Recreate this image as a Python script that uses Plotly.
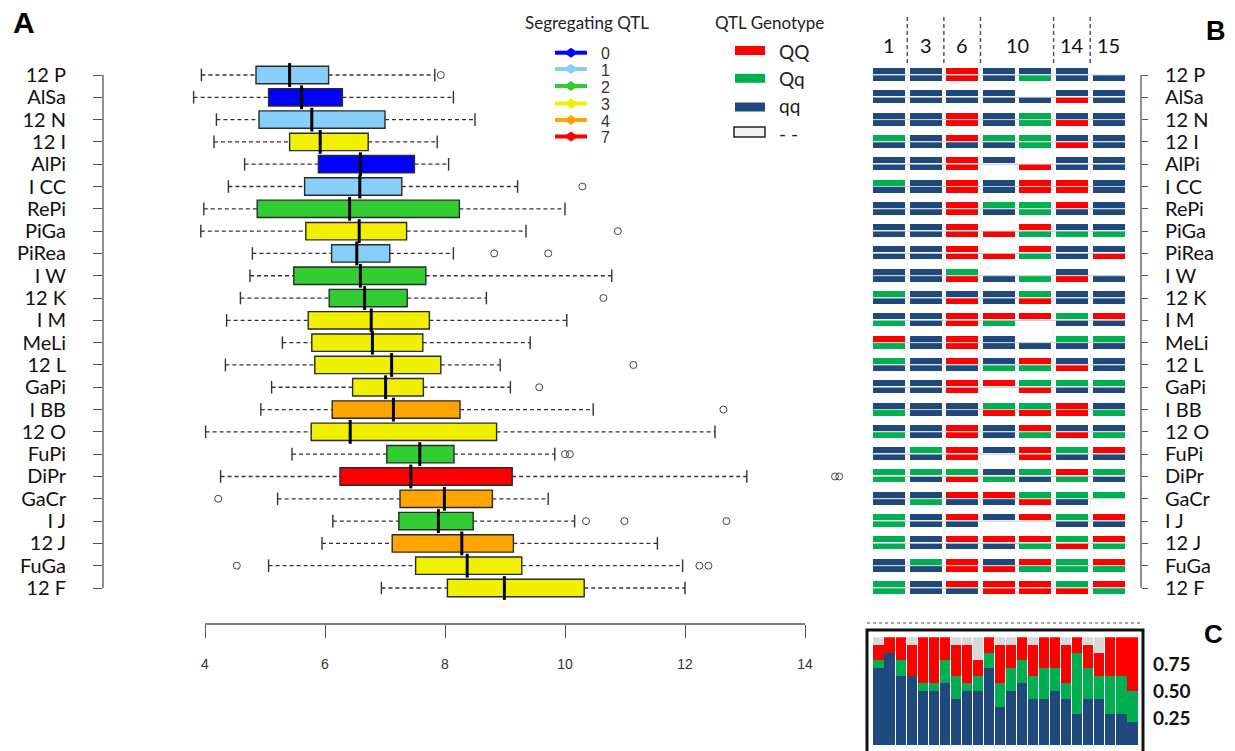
import plotly.graph_objects as go

W, H = 1235, 751

# ---------------- data ----------------
lines = ["12 P", "AlSa", "12 N", "12 I", "AlPi", "I CC", "RePi", "PiGa", "PiRea", "I W",
         "12 K", "I M", "MeLi", "12 L", "GaPi", "I BB", "12 O", "FuPi", "DiPr", "GaCr",
         "I J", "12 J", "FuGa", "12 F"]
n_qtl = [1, 0, 1, 3, 0, 1, 2, 3, 1, 2, 2, 3, 3, 3, 3, 4, 3, 2, 7, 4, 2, 4, 3, 3]
whisker_low = [3.94, 3.81, 4.19, 4.15, 4.66, 4.39, 3.98, 3.93, 4.79, 4.75, 4.59, 4.36,
               5.29, 4.34, 5.11, 4.93, 4.01, 5.45, 4.26, 5.21, 6.13, 5.95, 5.06, 6.94]
q1 = [4.85, 5.06, 4.90, 5.41, 5.89, 5.66, 4.87, 5.68, 6.11, 5.48, 6.07, 5.72,
      5.78, 5.83, 6.46, 6.12, 5.77, 7.03, 6.25, 7.25, 7.23, 7.12, 7.51, 8.04]
median = [5.41, 5.61, 5.78, 5.92, 6.59, 6.58, 6.41, 6.57, 6.53, 6.59, 6.66, 6.77,
          6.79, 7.11, 7.01, 7.14, 6.42, 7.58, 7.43, 7.99, 7.89, 8.28, 8.37, 8.99]
q3 = [6.06, 6.29, 7.00, 6.72, 7.49, 7.28, 8.24, 7.36, 7.08, 7.68, 7.37, 7.74,
      7.63, 7.93, 7.64, 8.25, 8.86, 8.15, 9.12, 8.79, 8.47, 9.14, 9.28, 10.32]
whisker_high = [7.83, 8.14, 8.50, 7.87, 8.06, 9.21, 10.00, 9.35, 8.14, 10.78, 8.69, 10.03,
                9.42, 8.92, 9.09, 10.47, 12.50, 9.83, 13.03, 9.72, 10.16, 11.54, 11.96, 12.00]
outliers = [[7.93], [], [], [], [], [10.29], [], [10.88], [8.82, 9.72], [], [10.64], [],
            [], [11.14], [9.57], [12.64], [], [10.00, 10.08], [14.50, 14.57], [4.22],
            [10.35, 10.99, 12.69], [], [4.53, 12.24, 12.39], []]
x_ticks = [4, 6, 8, 10, 12, 14]

qtl_levels = [0, 1, 2, 3, 4, 7]
qtl_colors = ["#0000FF", "#87CEFA", "#32CD32", "#F0F000", "#FFA500", "#FF0000"]

# genotype per QTL column, two alleles (top/bottom): R=QQ, G=Qq, B=qq, -=missing
chrom_labels = ["1", "3", "6", "10", "14", "15"]
geno_c1 = ["BB", "BB", "BB", "GB", "BB", "GB", "BB", "BB", "BB", "BB", "GB", "BG",
           "RG", "GB", "BB", "BG", "BG", "BB", "GG", "BB", "GG", "GG", "BB", "GG"]
geno_c3 = ["BB", "BB", "BB", "BB", "BB", "BB", "BB", "BB", "BB", "BB", "BB", "BB",
           "BB", "BB", "BB", "BB", "BB", "GB", "GB", "BG", "BB", "BB", "GB", "BB"]
geno_c6 = ["RR", "BB", "RR", "RB", "RR", "RR", "RR", "RR", "RR", "GR", "BR", "RR",
           "RR", "RB", "RR", "BB", "RR", "RR", "GR", "RB", "RB", "RB", "RR", "RB"]
geno_c10a = ["BB", "BB", "BB", "GB", "B-", "BB", "GB", "-R", "-R", "-B", "BB", "RG",
             "BB", "BG", "R-", "GR", "BB", "B-", "BG", "RB", "B-", "RB", "BR", "RR"]
geno_c10b = ["BG", "-B", "GG", "GG", "-R", "RR", "GG", "RG", "RG", "-G", "GR", "R-",
             "-B", "RG", "GR", "GR", "RG", "RR", "GB", "GR", "R-", "RG", "RG", "RR"]
geno_c14 = ["BB", "BR", "BR", "BR", "BB", "RR", "RB", "BG", "BB", "BR", "BB", "GB",
            "GB", "BR", "GB", "RR", "BR", "GB", "RG", "GB", "GB", "GR", "GG", "GR"]
geno_c15 = ["-B", "BB", "BB", "BB", "BB", "BB", "BB", "BG", "BR", "-B", "BB", "RB",
            "GB", "BB", "GB", "BG", "BG", "RB", "GB", "G-", "RB", "RG", "RG", "RG"]

# panel C: allele counts (out of 14) per line
c_qq = [10, 12, 9, 9, 7, 7, 8, 6, 7, 7, 10, 5, 7, 8, 6, 6, 7, 6, 4, 6, 6, 4, 4, 3]
c_Qq = [1, 0, 2, 0, 1, 1, 3, 3, 1, 2, 2, 3, 3, 3, 3, 4, 3, 2, 8, 4, 3, 5, 5, 4]
c_QQ = [2, 2, 3, 4, 6, 6, 3, 4, 5, 2, 2, 5, 3, 3, 4, 4, 4, 5, 2, 3, 3, 5, 5, 7]
c_na = [1, 0, 0, 1, 0, 0, 0, 1, 1, 3, 0, 1, 1, 0, 1, 0, 0, 1, 0, 1, 2, 0, 0, 0]
alleles_total = 14

geno_names = ["QQ", "Qq", "qq", "- -"]
geno_colors = ["#FF0000", "#00B050", "#1F497D", "#D9D9D9"]

# ---------------- helpers ----------------
def px(x):
    return x / W

def py(y):
    return 1 - y / H

LATO = "Lato, 'Open Sans', sans-serif"
ARIAL = "'Liberation Sans', Arial, sans-serif"

fig = go.Figure()
N = len(lines)
rows = list(range(N))

# ---------------- panel A: boxplots ----------------
for lev, col in zip(qtl_levels, qtl_colors):
    idx = [i for i in rows if n_qtl[i] == lev]
    fig.add_trace(go.Box(
        orientation="h", y=idx,
        q1=[q1[i] for i in idx], median=[median[i] for i in idx], q3=[q3[i] for i in idx],
        lowerfence=[q1[i] for i in idx], upperfence=[q3[i] for i in idx],
        fillcolor=col, line=dict(color="#2A2A2A", width=1.4), width=0.78,
        boxpoints=False, showlegend=False, hoverinfo="skip", xaxis="x", yaxis="y"))

wx, wy = [], []
for i in rows:
    wx += [whisker_low[i], q1[i], None, q3[i], whisker_high[i], None]
    wy += [i, i, None, i, i, None]
fig.add_trace(go.Scatter(x=wx, y=wy, mode="lines", line=dict(color="#333333", width=1.3, dash="4px,3px"),
                         showlegend=False, hoverinfo="skip", xaxis="x", yaxis="y"))
fig.add_trace(go.Scatter(x=whisker_low + whisker_high, y=rows + rows, mode="markers",
                         marker=dict(symbol="line-ns-open", size=9, color="#333333",
                                     line=dict(color="#333333", width=1.4)),
                         showlegend=False, hoverinfo="skip", xaxis="x", yaxis="y"))
fig.add_trace(go.Scatter(x=median, y=rows, mode="markers",
                         marker=dict(symbol="line-ns-open", size=17, color="#000000",
                                     line=dict(color="#000000", width=3)),
                         showlegend=False, hoverinfo="skip", xaxis="x", yaxis="y"))
ox, oy = [], []
for i in rows:
    for v in outliers[i]:
        ox.append(v)
        oy.append(i)
fig.add_trace(go.Scatter(x=ox, y=oy, mode="markers",
                         marker=dict(symbol="circle-open", size=7, color="#444444", line=dict(width=1)),
                         showlegend=False, hoverinfo="skip", xaxis="x", yaxis="y"))

# ---------------- panel B: genotype grid ----------------
code = {"B": 0, "G": 1, "R": 2, "-": None}
cols = [geno_c1, geno_c3, geno_c6, geno_c10a, geno_c10b, geno_c14, geno_c15]
ncol = len(cols)
half_w, half_h = 0.4375, 0.314
z = []
for i in rows:
    top, bot = [], []
    for j, c in enumerate(cols):
        top.append(code[c[i][0]])
        bot.append(code[c[i][1]])
        if j < ncol - 1:
            top.append(None)
            bot.append(None)
    z.append(top)
    z.append(bot)
    if i < N - 1:
        z.append([None] * (2 * ncol - 1))
xe = []
for j in range(ncol):
    xe += [j - half_w, j + half_w]
ye = []
for i in rows:
    ye += [i - half_h, i, i + half_h]
fig.add_trace(go.Heatmap(
    x=xe, y=ye, z=z, zmin=0, zmax=2, ygap=1, showscale=False, hoverinfo="skip",
    colorscale=[[0, geno_colors[2]], [0.25, geno_colors[2]], [0.25, geno_colors[1]],
                [0.75, geno_colors[1]], [0.75, geno_colors[0]], [1, geno_colors[0]]],
    xaxis="x2", yaxis="y2"))
gx, gy = [], []
for i in rows:
    gx += [-half_w, ncol - 1 + half_w, None]
    gy += [i, i, None]
fig.add_trace(go.Scatter(x=gx, y=gy, mode="lines", line=dict(color="#C4C4C4", width=1),
                         showlegend=False, hoverinfo="skip", xaxis="x2", yaxis="y2"))

# ---------------- panel C: stacked proportions ----------------
bx = list(range(N))
for vals, colr in [(c_qq, geno_colors[2]), (c_Qq, geno_colors[1]), (c_QQ, geno_colors[0]), (c_na, geno_colors[3])]:
    fig.add_trace(go.Bar(x=bx, y=[v / alleles_total for v in vals], marker=dict(color=colr, line=dict(width=0)),
                         showlegend=False, hoverinfo="skip", xaxis="x3", yaxis="y3"))

# ---------------- layout ----------------
pitch = (588 - 75) / 23
y_top = (50 - 75) / pitch
y_bot = 23 + (624 - 588) / pitch
col_pitch = 36.583

fig.update_layout(
    width=W, height=H, margin=dict(l=0, r=0, t=0, b=0),
    paper_bgcolor="white", plot_bgcolor="white",
    barmode="stack", bargap=0.08, boxmode="overlay",
    xaxis=dict(domain=[px(103), px(850)], range=[4 - (205 - 103) / 60, 4 + (850 - 205) / 60],
               tickvals=x_ticks, ticks="outside", ticklen=13, tickcolor="#555555", tickwidth=1.3,
               showgrid=False, zeroline=False, showline=False, anchor="y",
               tickfont=dict(family=ARIAL, size=14, color="#333333"), ticklabelstandoff=14),
    yaxis=dict(domain=[py(624), py(50)], range=[y_bot, y_top], tickvals=rows, ticktext=lines,
               ticks="outside", ticklen=9, tickcolor="#555555", tickwidth=1.3,
               showgrid=False, zeroline=False, showline=False, anchor="x",
               tickfont=dict(family=LATO, size=20, color="#111111"), ticklabelstandoff=23),
    xaxis2=dict(domain=[px(867), px(1141)], range=[(867 - 889) / col_pitch, (1141 - 889) / col_pitch],
                showticklabels=False, ticks="", showgrid=False, zeroline=False, showline=False, anchor="y2"),
    yaxis2=dict(domain=[py(624), py(50)], range=[y_bot, y_top], tickvals=rows, ticktext=lines,
                side="right", anchor="x2", ticks="outside", ticklen=6, tickcolor="#555555", tickwidth=1.3,
                showgrid=False, zeroline=False, showline=False,
                tickfont=dict(family=LATO, size=20, color="#111111"), ticklabelstandoff=13),
    xaxis3=dict(domain=[px(873), px(1138)], range=[-0.5, N - 0.5], showticklabels=False, ticks="",
                showgrid=False, zeroline=False, showline=False, anchor="y3"),
    yaxis3=dict(domain=[py(745), py(637.3)], range=[0, 1], side="right", anchor="x3",
                tickvals=[0.25, 0.5, 0.75], ticktext=["0.25", "0.50", "0.75"], ticks="",
                showgrid=False, zeroline=False, showline=False,
                tickfont=dict(family=LATO, size=19, color="#111111", weight="bold"), ticklabelstandoff=14),
)

shapes = []
# R-style axis lines
shapes.append(dict(type="line", xref="x", yref="y domain", x0=x_ticks[0], x1=x_ticks[-1], y0=0, y1=0,
                   line=dict(color="#555555", width=1.3)))
shapes.append(dict(type="line", xref="x domain", yref="y", x0=0, x1=0, y0=0, y1=N - 1,
                   line=dict(color="#555555", width=1.3)))
shapes.append(dict(type="line", xref="x2 domain", yref="y2", x0=1, x1=1, y0=0, y1=N - 1,
                   line=dict(color="#555555", width=1.3)))
# B column separators
for sx in [0.5, 1.5, 2.5, 4.5, 5.5]:
    shapes.append(dict(type="line", xref="x2", yref="paper", x0=sx, x1=sx, y0=py(600), y1=py(63),
                       line=dict(color="#EEEEEE", width=1)))
    shapes.append(dict(type="line", xref="x2", yref="paper", x0=sx, x1=sx, y0=py(63), y1=py(15),
                       line=dict(color="#555555", width=1.5, dash="4px,3px")))
# C frame and dotted line
shapes.append(dict(type="line", xref="paper", yref="paper", x0=px(867), x1=px(1143), y0=py(623), y1=py(623),
                   line=dict(color="#888888", width=1.5, dash="dot")))
shapes.append(dict(type="rect", xref="paper", yref="paper", x0=px(867), x1=px(1143), y0=py(754), y1=py(630),
                   line=dict(color="#111111", width=3)))

annotations = []
# panel letters
for t, x, y, s in [("A", 24, 22, 30), ("B", 1216, 31, 27), ("C", 1213, 634, 26)]:
    annotations.append(dict(text="<b>%s</b>" % t, x=px(x), y=py(y), xref="paper", yref="paper",
                            showarrow=False, font=dict(family=ARIAL, size=s, color="#000000"),
                            xanchor="center", yanchor="middle"))
# B header
for lab, xc in zip(chrom_labels, [0, 1, 2, 3.5, 5, 6]):
    annotations.append(dict(text=lab, x=xc, y=py(45), xref="x2", yref="paper", showarrow=False,
                            font=dict(family=LATO, size=20, color="#111111"), xanchor="center", yanchor="middle"))

# legend: Segregating QTL
annotations.append(dict(text="Segregating QTL", x=px(587), y=py(22), xref="paper", yref="paper", showarrow=False,
                        font=dict(family=LATO, size=17, color="#222222"), xanchor="center", yanchor="middle"))
leg_y = [52.7, 69, 86, 103.5, 120, 136.5]
for lev, colr, yy in zip(qtl_levels, qtl_colors, leg_y):
    shapes.append(dict(type="line", xref="paper", yref="paper", x0=px(555), x1=px(587), y0=py(yy), y1=py(yy),
                       line=dict(color=colr, width=4)))
    shapes.append(dict(type="path", xref="paper", yref="paper",
                       path="M %f %f L %f %f L %f %f L %f %f Z" % (px(564), py(yy), px(571), py(yy - 5),
                                                                 px(578), py(yy), px(571), py(yy + 5)),
                       fillcolor=colr, line=dict(color=colr, width=0)))
    annotations.append(dict(text=str(lev), x=px(599), y=py(yy + 1), xref="paper", yref="paper", showarrow=False,
                            font=dict(family=ARIAL, size=16, color="#333333"), xanchor="left", yanchor="middle"))

# legend: QTL Genotype
annotations.append(dict(text="QTL Genotype", x=px(769), y=py(22), xref="paper", yref="paper", showarrow=False,
                        font=dict(family=LATO, size=17, color="#222222"), xanchor="center", yanchor="middle"))
sw_y = [50.5, 78.3, 107, 132]
txt_y = [51, 79, 105, 133]
for nm, colr, sy, ty in zip(geno_names, geno_colors, sw_y, txt_y):
    if nm == "- -":
        shapes.append(dict(type="rect", xref="paper", yref="paper", x0=px(734), x1=px(765),
                           y0=py(sy + 5), y1=py(sy - 5), fillcolor="#F2F2F2", line=dict(color="#222222", width=1.5)))
    else:
        shapes.append(dict(type="rect", xref="paper", yref="paper", x0=px(735), x1=px(765),
                           y0=py(sy + 4.5), y1=py(sy - 4.5), fillcolor=colr, line=dict(width=0)))
    annotations.append(dict(text=nm, x=px(777), y=py(ty), xref="paper", yref="paper", showarrow=False,
                            font=dict(family=LATO, size=19, color="#222222"), xanchor="left", yanchor="middle"))

fig.update_layout(shapes=shapes, annotations=annotations)
fig.write_html("out.html", config={"displayModeBar": False},
               post_script="document.body.style.margin='0px';document.body.style.overflow='hidden';")
